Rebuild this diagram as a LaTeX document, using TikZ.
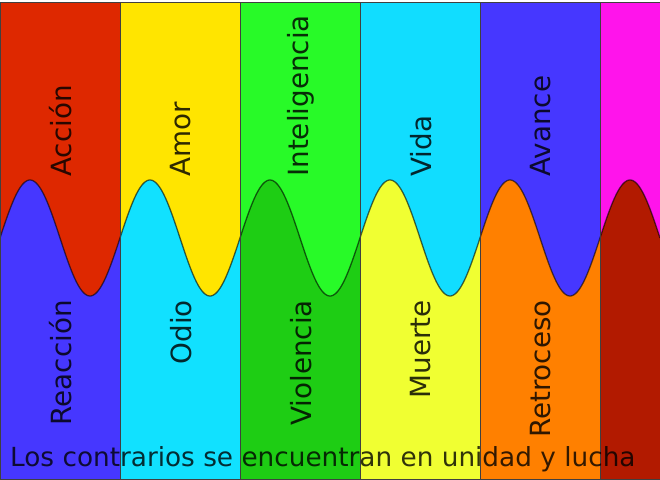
\documentclass[tikz,border=0pt]{standalone}
\usepackage{fontspec}
\setmainfont{DejaVu Sans}
\definecolor{tRed}{RGB}{222,40,0}
\definecolor{tYellow}{RGB}{255,229,0}
\definecolor{tGreen}{RGB}{40,250,40}
\definecolor{tCyan}{RGB}{17,221,255}
\definecolor{tBlue}{RGB}{70,55,255}
\definecolor{tMagenta}{RGB}{255,20,235}
\definecolor{bBlue}{RGB}{70,55,255}
\definecolor{bCyan}{RGB}{17,225,255}
\definecolor{bGreen}{RGB}{30,205,20}
\definecolor{bYellow}{RGB}{240,255,50}
\definecolor{bOrange}{RGB}{255,128,0}
\definecolor{bDarkRed}{RGB}{178,26,0}
\tikzset{
  lbl/.style={inner sep=0pt, rotate=90, text=black, text opacity=0.82,
    font=\fontsize{27.8}{32}\selectfont},
  wave/.style={draw=black, draw opacity=0.6, line width=1.3pt},
  colborder/.style={draw=black!75, line width=0.9pt}
}
\begin{document}
\begin{tikzpicture}[x=1pt,y=1pt]
\useasboundingbox (0,0) rectangle (660,479);
\fill[white] (0,0) rectangle (660,479);
\foreach \i/\xa/\xb/\tc/\bc in {0/0/120/tRed/bBlue,1/120/240/tYellow/bCyan,2/240/360/tGreen/bGreen,3/360/480/tCyan/bYellow,4/480/600/tBlue/bOrange,5/600/660/tMagenta/bDarkRed}{
  \fill[\tc] (\xa,0) rectangle (\xb,477);
  \fill[\bc] plot[domain=\xa:\xb, samples=80] (\x,{241+58*sin(3*\x)}) -- (\xb,0) -- (\xa,0) -- cycle;
  \draw[wave] plot[domain=\xa:\xb, samples=80] (\x,{241+58*sin(3*\x)});
  \draw[colborder] (\xa,0) rectangle (\xb,477);
}
\foreach \i/\tl/\bl in {0/Acción/Reacción,1/Amor/Odio,2/Inteligencia/Violencia,3/Vida/Muerte,4/Avance/Retroceso}{
  \node[lbl, anchor=west] (top\i) at (61+120*\i, 302) {\tl};
  \node[lbl, anchor=east] (bot\i) at (61+120*\i, 179) {\bl};
}
\node[inner sep=0pt, anchor=base west, text=black, text opacity=0.8,
  font=\fontsize{26.3}{30}\selectfont] (caption) at (10,13)
  {Los contrarios se encuentran en unidad y lucha};
\end{tikzpicture}
\end{document}
